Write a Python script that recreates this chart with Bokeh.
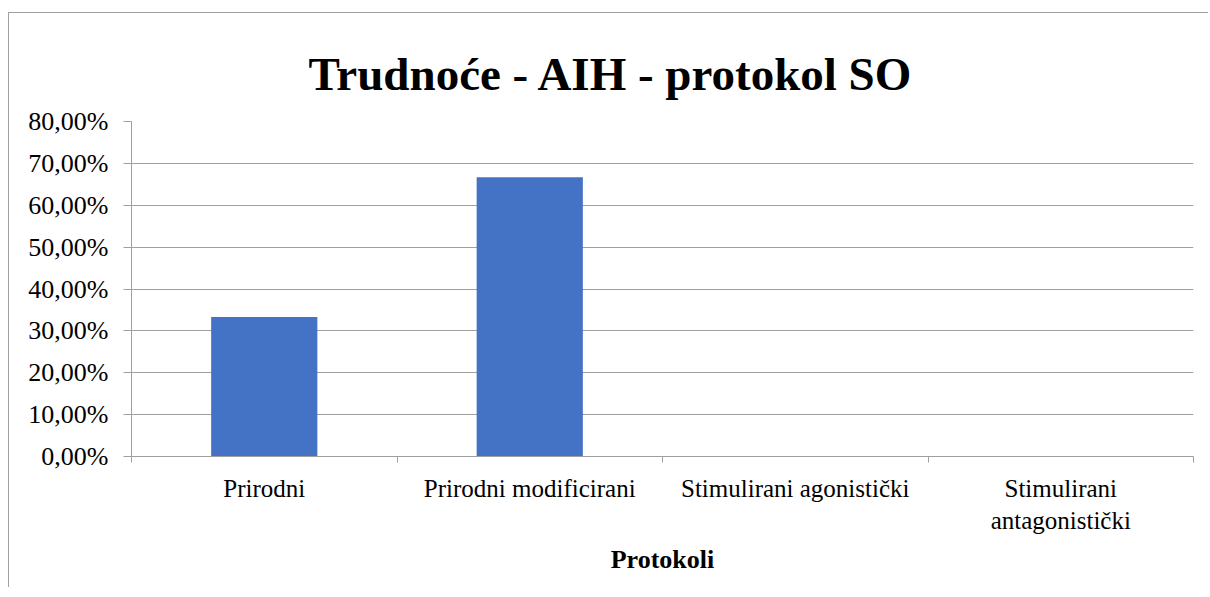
from bokeh.plotting import figure
from bokeh.models import (ColumnDataSource, Range1d, LinearAxis, FixedTicker, Title)
from bokeh.embed import file_html
from bokeh.resources import INLINE

# ---- data ----
title_text = "Trudnoće - AIH - protokol SO"
categories = ["Prirodni", "Prirodni modificirani", "Stimulirani agonistički", "Stimulirani\nantagonistički"]
values = [0.3333, 0.6667, 0.0, 0.0]
y_ticks = [0.0, 0.1, 0.2, 0.3, 0.4, 0.5, 0.6, 0.7, 0.8]
y_tick_labels = ["0,00%", "10,00%", "20,00%", "30,00%", "40,00%", "50,00%", "60,00%", "70,00%", "80,00%"]
x_title = "Protokoli"

SERIF = "Liberation Serif"
GRAY = "#a0a0a0"
BAR = "#4472C4"

n = len(categories)
centers = [i + 0.5 for i in range(n)]
bounds = list(range(n + 1))

W, H = 1200, 575
p = figure(width=W, height=H, x_range=Range1d(0, n),
           y_range=Range1d(0, 0.8), output_backend="svg", toolbar_location=None,
           x_axis_location=None, y_axis_location="left",
           min_border_left=122, min_border_right=16, min_border_top=108, min_border_bottom=132,
           styles={"margin-top": "12px", "margin-left": "8px",
                   "border-left": f"1px solid {GRAY}", "border-top": f"1px solid {GRAY}"})
p.outline_line_color = None
p.background_fill_color = "white"
p.border_fill_color = "white"

p.title = Title(text=title_text, align="left", offset=177, standoff=40,
                text_font=SERIF, text_font_size="47px", text_font_style="bold",
                text_color="black", vertical_align="top")

src = ColumnDataSource(dict(x=centers, val=values))
p.vbar(x="x", top="val", width=0.4, source=src, fill_color=BAR, line_color=None)

# y axis
ya = p.yaxis[0]
ya.ticker = FixedTicker(ticks=y_ticks)
ya.major_label_overrides = {t: l for t, l in zip(y_ticks, y_tick_labels)}
ya.axis_line_color = GRAY
ya.major_tick_line_color = GRAY
ya.major_tick_in = 0
ya.major_tick_out = 8
ya.minor_tick_line_color = None
ya.major_label_text_font = SERIF
ya.major_label_text_font_size = "26px"
ya.major_label_text_color = "black"
ya.major_label_standoff = 15

p.xgrid.visible = False
p.ygrid.ticker = FixedTicker(ticks=y_ticks)
p.ygrid.grid_line_color = GRAY

# x axis: labels at category centres, tick marks at category boundaries
ca = LinearAxis(ticker=FixedTicker(ticks=centers, minor_ticks=bounds))
ca.major_label_overrides = {c: lab for c, lab in zip(centers, categories)}
ca.axis_line_color = GRAY
ca.major_tick_line_color = None
ca.major_tick_out = 6
ca.major_tick_in = 0
ca.minor_tick_line_color = GRAY
ca.minor_tick_out = 6
ca.minor_tick_in = 0
ca.major_label_text_font = SERIF
ca.major_label_text_font_size = "25px"
ca.major_label_text_color = "black"
ca.major_label_standoff = 12
ca.axis_label = x_title
ca.axis_label_text_font = SERIF
ca.axis_label_text_font_size = "26px"
ca.axis_label_text_font_style = "bold"
ca.axis_label_text_color = "black"
ca.axis_label_standoff = 8
p.add_layout(ca, "below")

open("out.html", "w").write(file_html(p, INLINE))
